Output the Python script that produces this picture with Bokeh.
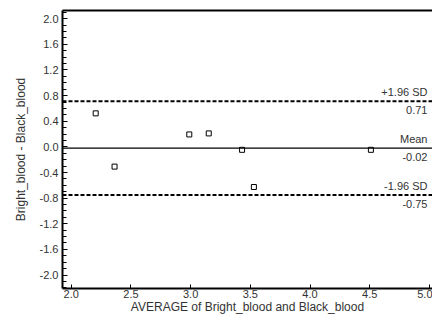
from bokeh.plotting import figure
from bokeh.models import Range1d, Label, Span, LinearAxis, FixedTicker, PrintfTickFormatter, Title
from bokeh.embed import file_html
from bokeh.resources import INLINE

# Data
avg = [2.205, 2.363, 2.989, 3.152, 3.431, 3.530, 4.510]
diff = [0.523, -0.308, 0.194, 0.210, -0.046, -0.626, -0.046]
mean_diff = -0.02
upper_loa = 0.71
lower_loa = -0.75
y_ticks = [-2.0, -1.6, -1.2, -0.8, -0.4, 0.0, 0.4, 0.8, 1.2, 1.6, 2.0]
x_ticks = [2.0, 2.5, 3.0, 3.5, 4.0, 4.5, 5.0]
x_title = "AVERAGE of Bright_blood and Black_blood"
y_title = "Bright_blood - Black_blood"

FONT = "Liberation Sans"
TXT = "#333333"

X0, X1 = 1.927, 5.026
Y0, Y1 = -2.21, 2.128

p = figure(width=432, height=315, output_backend="svg", toolbar_location=None,
           x_range=Range1d(X0, X1), y_range=Range1d(Y0, Y1),
           min_border_left=62, min_border_right=0, min_border_top=10, min_border_bottom=27)
p.outline_line_color = None
p.grid.visible = False
p.background_fill_color = "white"
p.border_fill_color = "white"

for ax in (p.xaxis[0], p.yaxis[0]):
    ax.axis_line_width = 2
    ax.axis_line_color = "black"
    ax.major_tick_line_color = "black"
    ax.major_tick_in = 5
    ax.major_tick_out = 0
    ax.major_label_text_font = FONT
    ax.major_label_text_font_size = "11px"
    ax.major_label_text_color = TXT
    ax.axis_label_text_font = FONT
    ax.axis_label_text_font_size = "12px"
    ax.axis_label_text_font_style = "normal"
    ax.axis_label_text_color = TXT
    ax.formatter = PrintfTickFormatter(format="%.1f")

p.xaxis[0].ticker = FixedTicker(ticks=x_ticks)
p.xaxis[0].minor_tick_line_color = None
p.xaxis[0].major_tick_in = 4
p.xaxis[0].major_label_standoff = 1

minor_y = [round(-2.2 + 0.1 * i, 1) for i in range(44)]
p.yaxis[0].ticker = FixedTicker(ticks=y_ticks, minor_ticks=minor_y)
p.yaxis[0].minor_tick_in = 4
p.yaxis[0].minor_tick_out = 0
p.yaxis[0].minor_tick_line_color = "black"
p.yaxis[0].major_label_standoff = 4
p.yaxis[0].axis_label_standoff = 9
p.yaxis[0].axis_label = y_title

# x-axis title as a compact "below" title
p.add_layout(Title(text=x_title, align="center", standoff=-6, text_font=FONT,
                   text_font_size="12px", text_font_style="normal", text_color=TXT), "below")

top = LinearAxis(ticker=FixedTicker(ticks=[]), major_tick_line_color=None,
                 minor_tick_line_color=None, axis_line_width=2,
                 major_label_standoff=0, major_tick_out=0, major_tick_in=0)
p.add_layout(top, "above")

p.add_layout(Span(location=mean_diff, dimension="width", line_color="black", line_width=1.3))
p.add_layout(Span(location=upper_loa, dimension="width", line_color="black", line_width=2, line_dash="4 2"))
p.add_layout(Span(location=lower_loa, dimension="width", line_color="black", line_width=2, line_dash="4 2"))

p.scatter(avg, diff, marker="square", size=5, fill_color="white", line_color="black", line_width=1)

def lab(y, txt, above):
    p.add_layout(Label(x=4.984, y=y, text=txt, text_align="right",
                       text_baseline="bottom" if above else "top",
                       y_offset=3 if above else -5,
                       text_font=FONT, text_font_size="11px", text_color=TXT))

lab(upper_loa, "+1.96 SD", True)
lab(upper_loa, "%.2f" % upper_loa, False)
lab(mean_diff, "Mean", True)
lab(mean_diff, "%.2f" % mean_diff, False)
lab(lower_loa, "-1.96 SD", True)
lab(lower_loa, "%.2f" % lower_loa, False)

open("out.html", "w").write(file_html(p, INLINE))
